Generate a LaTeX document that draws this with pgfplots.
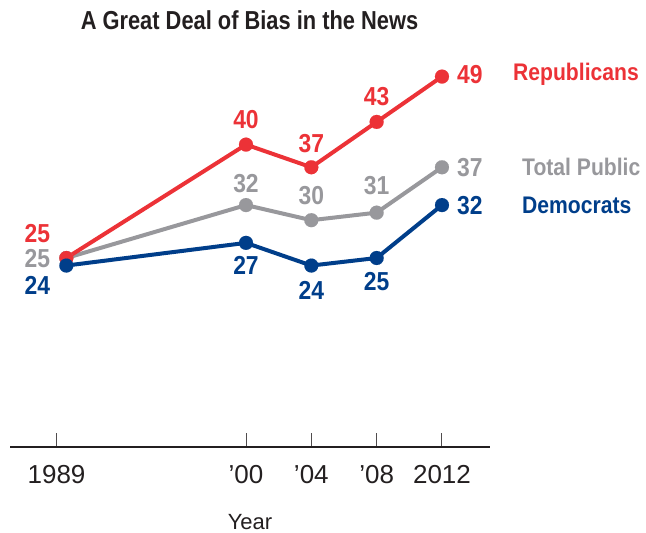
\documentclass[border=0pt]{standalone}
\usepackage{pgfplots}
\pgfplotsset{compat=1.18}
\usepackage{fontspec}
\setmainfont{Liberation Sans}
\newfontfamily\cond[FakeStretch=0.88]{Liberation Sans}
\newfontfamily\condtitle[FakeStretch=0.84]{Liberation Sans}
\definecolor{rep}{RGB}{236,50,55}
\definecolor{tot}{RGB}{152,152,156}
\definecolor{dem}{RGB}{0,62,138}
\definecolor{ink}{RGB}{35,31,32}
\tikzset{lbl/.style={font={\cond\bfseries\fontsize{26}{26}\selectfont}, anchor=center, inner sep=0pt},
  nm/.style={font={\cond\bfseries\fontsize{24}{24}\selectfont}, anchor=west, inner sep=0pt}}
\begin{document}
\begin{tikzpicture}
\useasboundingbox (-10pt,-86pt) rectangle (636pt,447pt);
\begin{axis}[at={(0pt,0pt)}, anchor=south west, scale only axis,
  width=480pt, height=415.8pt,
  xmin=1985.55, xmax=2014.94, ymin=0, ymax=55,
  axis x line=bottom, axis y line=none,
  x axis line style={-, line width=2pt, draw=ink},
  xtick={1988.4,2000,2004,2008,2012},
  xticklabels={1989,’00,’04,’08,2012},
  tick align=inside, major tick length=14pt,
  xtick style={line width=1pt, draw=ink!80},
  xticklabel style={font=\fontsize{26}{26}\selectfont, text=ink, anchor=center, yshift=-27.5pt},
  xlabel={Year},
  xlabel style={font=\fontsize{22}{22}\selectfont, text=ink, at={(axis description cs:0.5,0)}, anchor=center, yshift=-75pt},
  clip=false]
\addplot[tot, line width=4pt, mark=*, mark size=7pt, mark options={line width=0.1pt}] coordinates {(1989,25)(2000,32)(2004,30)(2008,31)(2012,37)};
\addplot[rep, line width=4pt, mark=*, mark size=7pt, mark options={line width=0.1pt}] coordinates {(1989,25)(2000,40)(2004,37)(2008,43)(2012,49)};
\addplot[dem, line width=4pt, mark=*, mark size=7pt, mark options={line width=0.1pt}] coordinates {(1989,24)(2000,27)(2004,24)(2008,25)(2012,32)};
% Republicans labels
\node[lbl, text=rep, xshift=-29pt, yshift=24pt] at (axis cs:1989,25) {25};
\node[lbl, text=rep, yshift=25pt] at (axis cs:2000,40) {40};
\node[lbl, text=rep, yshift=24pt] at (axis cs:2004,37) {37};
\node[lbl, text=rep, yshift=25pt] at (axis cs:2008,43) {43};
\node[lbl, text=rep, anchor=west, xshift=15pt, yshift=2pt] at (axis cs:2012,49) {49};
% Total labels
\node[lbl, text=tot, xshift=-29pt, yshift=-1pt] at (axis cs:1989,25) {25};
\node[lbl, text=tot, yshift=22pt] at (axis cs:2000,32) {32};
\node[lbl, text=tot, yshift=25pt] at (axis cs:2004,30) {30};
\node[lbl, text=tot, yshift=27pt] at (axis cs:2008,31) {31};
\node[lbl, text=tot, anchor=west, xshift=15pt, yshift=0pt] at (axis cs:2012,37) {37};
% Democrats labels
\node[lbl, text=dem, xshift=-29pt, yshift=-20pt] at (axis cs:1989,24) {24};
\node[lbl, text=dem, yshift=-23pt] at (axis cs:2000,27) {27};
\node[lbl, text=dem, yshift=-25pt] at (axis cs:2004,24) {24};
\node[lbl, text=dem, yshift=-24pt] at (axis cs:2008,25) {25};
\node[lbl, text=dem, anchor=west, xshift=15pt, yshift=0pt] at (axis cs:2012,32) {32};
% Series names
\node[nm, text=rep, xshift=71pt, yshift=2pt] at (axis cs:2012,49) {Republicans};
\node[nm, text=tot, xshift=80pt, yshift=0pt] at (axis cs:2012,37) {Total Public};
\node[nm, text=dem, xshift=80pt, yshift=0pt] at (axis cs:2012,32) {Democrats};
\end{axis}
\node[font={\condtitle\bfseries\fontsize{26}{26}\selectfont}, text=ink, inner sep=0pt] at (239.5pt,427pt) {A Great Deal of Bias in the News};
\end{tikzpicture}
\end{document}
